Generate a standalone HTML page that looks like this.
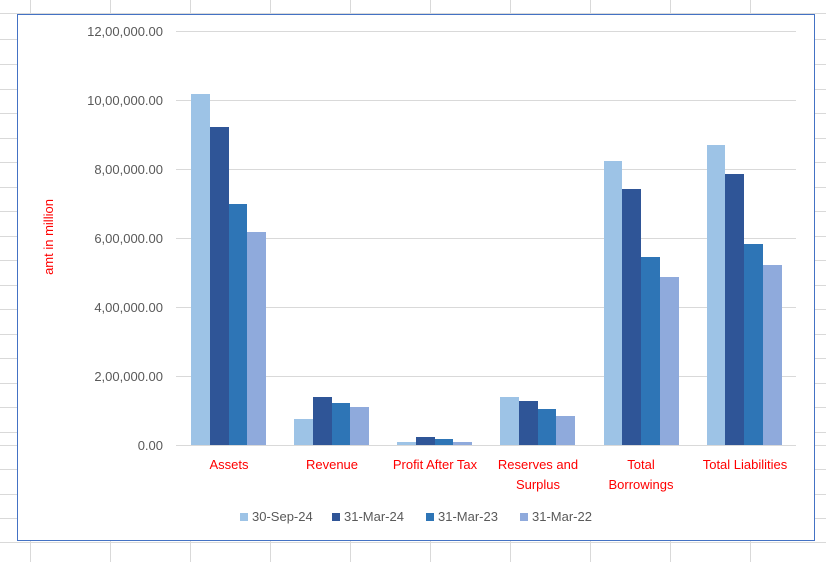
<!DOCTYPE html>
<html><head><meta charset="utf-8"><style>
html,body{margin:0;padding:0;background:#fff;}
svg{display:block;font-family:"Liberation Sans",Calibri,sans-serif;}
</style></head><body>
<svg width="826" height="562" xmlns="http://www.w3.org/2000/svg">
<g stroke="#d9d9d9" stroke-width="1">
<line x1="30.5" y1="0" x2="30.5" y2="562"/><line x1="110.5" y1="0" x2="110.5" y2="562"/><line x1="190.5" y1="0" x2="190.5" y2="562"/><line x1="270.5" y1="0" x2="270.5" y2="562"/><line x1="350.5" y1="0" x2="350.5" y2="562"/><line x1="430.5" y1="0" x2="430.5" y2="562"/><line x1="510.5" y1="0" x2="510.5" y2="562"/><line x1="590.5" y1="0" x2="590.5" y2="562"/><line x1="670.5" y1="0" x2="670.5" y2="562"/><line x1="750.5" y1="0" x2="750.5" y2="562"/>
<line x1="0" y1="13.5" x2="826" y2="13.5"/><line x1="0" y1="39.5" x2="826" y2="39.5"/><line x1="0" y1="64.5" x2="826" y2="64.5"/><line x1="0" y1="89.5" x2="826" y2="89.5"/><line x1="0" y1="113.5" x2="826" y2="113.5"/><line x1="0" y1="138.5" x2="826" y2="138.5"/><line x1="0" y1="162.5" x2="826" y2="162.5"/><line x1="0" y1="187.5" x2="826" y2="187.5"/><line x1="0" y1="211.5" x2="826" y2="211.5"/><line x1="0" y1="236.5" x2="826" y2="236.5"/><line x1="0" y1="260.5" x2="826" y2="260.5"/><line x1="0" y1="285.5" x2="826" y2="285.5"/><line x1="0" y1="309.5" x2="826" y2="309.5"/><line x1="0" y1="334.5" x2="826" y2="334.5"/><line x1="0" y1="358.5" x2="826" y2="358.5"/><line x1="0" y1="383.5" x2="826" y2="383.5"/><line x1="0" y1="407.5" x2="826" y2="407.5"/><line x1="0" y1="432.5" x2="826" y2="432.5"/><line x1="0" y1="445.5" x2="826" y2="445.5"/><line x1="0" y1="469.5" x2="826" y2="469.5"/><line x1="0" y1="494.5" x2="826" y2="494.5"/><line x1="0" y1="518.5" x2="826" y2="518.5"/><line x1="0" y1="542.5" x2="826" y2="542.5"/>
</g>
<rect x="17.5" y="14.5" width="797" height="526" fill="#fff" stroke="#4472c4" stroke-width="1"/>
<g stroke="#d9d9d9" stroke-width="1">
<line x1="176" y1="31.5" x2="796" y2="31.5"/><line x1="176" y1="100.5" x2="796" y2="100.5"/><line x1="176" y1="169.5" x2="796" y2="169.5"/><line x1="176" y1="238.5" x2="796" y2="238.5"/><line x1="176" y1="307.5" x2="796" y2="307.5"/><line x1="176" y1="376.5" x2="796" y2="376.5"/>
</g>
<g font-size="13" fill="#595959" text-anchor="end">
<text x="163" y="36">12,00,000.00</text><text x="163" y="105">10,00,000.00</text><text x="163" y="174">8,00,000.00</text><text x="163" y="243">6,00,000.00</text><text x="163" y="312">4,00,000.00</text><text x="163" y="381">2,00,000.00</text><text x="163" y="450">0.00</text>
</g>
<text transform="translate(53,237) rotate(-90)" font-size="13" fill="#ff0000" text-anchor="middle">amt in million</text>
<g>
<rect x="191" y="94" width="19" height="352" fill="#9dc3e6"/><rect x="210" y="127" width="19" height="319" fill="#2f5597"/><rect x="229" y="204" width="18" height="242" fill="#2e75b6"/><rect x="247" y="232" width="19" height="214" fill="#8faadc"/>
<rect x="294" y="419" width="19" height="27" fill="#9dc3e6"/><rect x="313" y="397" width="19" height="49" fill="#2f5597"/><rect x="332" y="403" width="18" height="43" fill="#2e75b6"/><rect x="350" y="407" width="19" height="39" fill="#8faadc"/>
<rect x="397" y="442" width="19" height="4" fill="#9dc3e6"/><rect x="416" y="437" width="19" height="9" fill="#2f5597"/><rect x="435" y="439" width="18" height="7" fill="#2e75b6"/><rect x="453" y="442" width="19" height="4" fill="#8faadc"/>
<rect x="500" y="397" width="19" height="49" fill="#9dc3e6"/><rect x="519" y="401" width="19" height="45" fill="#2f5597"/><rect x="538" y="409" width="18" height="37" fill="#2e75b6"/><rect x="556" y="416" width="19" height="30" fill="#8faadc"/>
<rect x="604" y="161" width="18" height="285" fill="#9dc3e6"/><rect x="622" y="189" width="19" height="257" fill="#2f5597"/><rect x="641" y="257" width="19" height="189" fill="#2e75b6"/><rect x="660" y="277" width="19" height="169" fill="#8faadc"/>
<rect x="707" y="145" width="18" height="301" fill="#9dc3e6"/><rect x="725" y="174" width="19" height="272" fill="#2f5597"/><rect x="744" y="244" width="19" height="202" fill="#2e75b6"/><rect x="763" y="265" width="19" height="181" fill="#8faadc"/>
</g>
<line x1="176" y1="445.5" x2="796" y2="445.5" stroke="#d9d9d9"/>
<g font-size="13" fill="#ff0000" text-anchor="middle">
<text x="229" y="469">Assets</text><text x="332" y="469">Revenue</text><text x="435" y="469">Profit After Tax</text>
<text x="538" y="469">Reserves and</text><text x="538" y="489">Surplus</text>
<text x="641" y="469">Total</text><text x="641" y="489">Borrowings</text>
<text x="745" y="469">Total Liabilities</text>
</g>
<g font-size="13" fill="#595959">
<rect x="240" y="513" width="8" height="8" fill="#9dc3e6"/><text x="252" y="521">30-Sep-24</text>
<rect x="332" y="513" width="8" height="8" fill="#2f5597"/><text x="344" y="521">31-Mar-24</text>
<rect x="426" y="513" width="8" height="8" fill="#2e75b6"/><text x="438" y="521">31-Mar-23</text>
<rect x="520" y="513" width="8" height="8" fill="#8faadc"/><text x="532" y="521">31-Mar-22</text>
</g>
</svg>
</body></html>
